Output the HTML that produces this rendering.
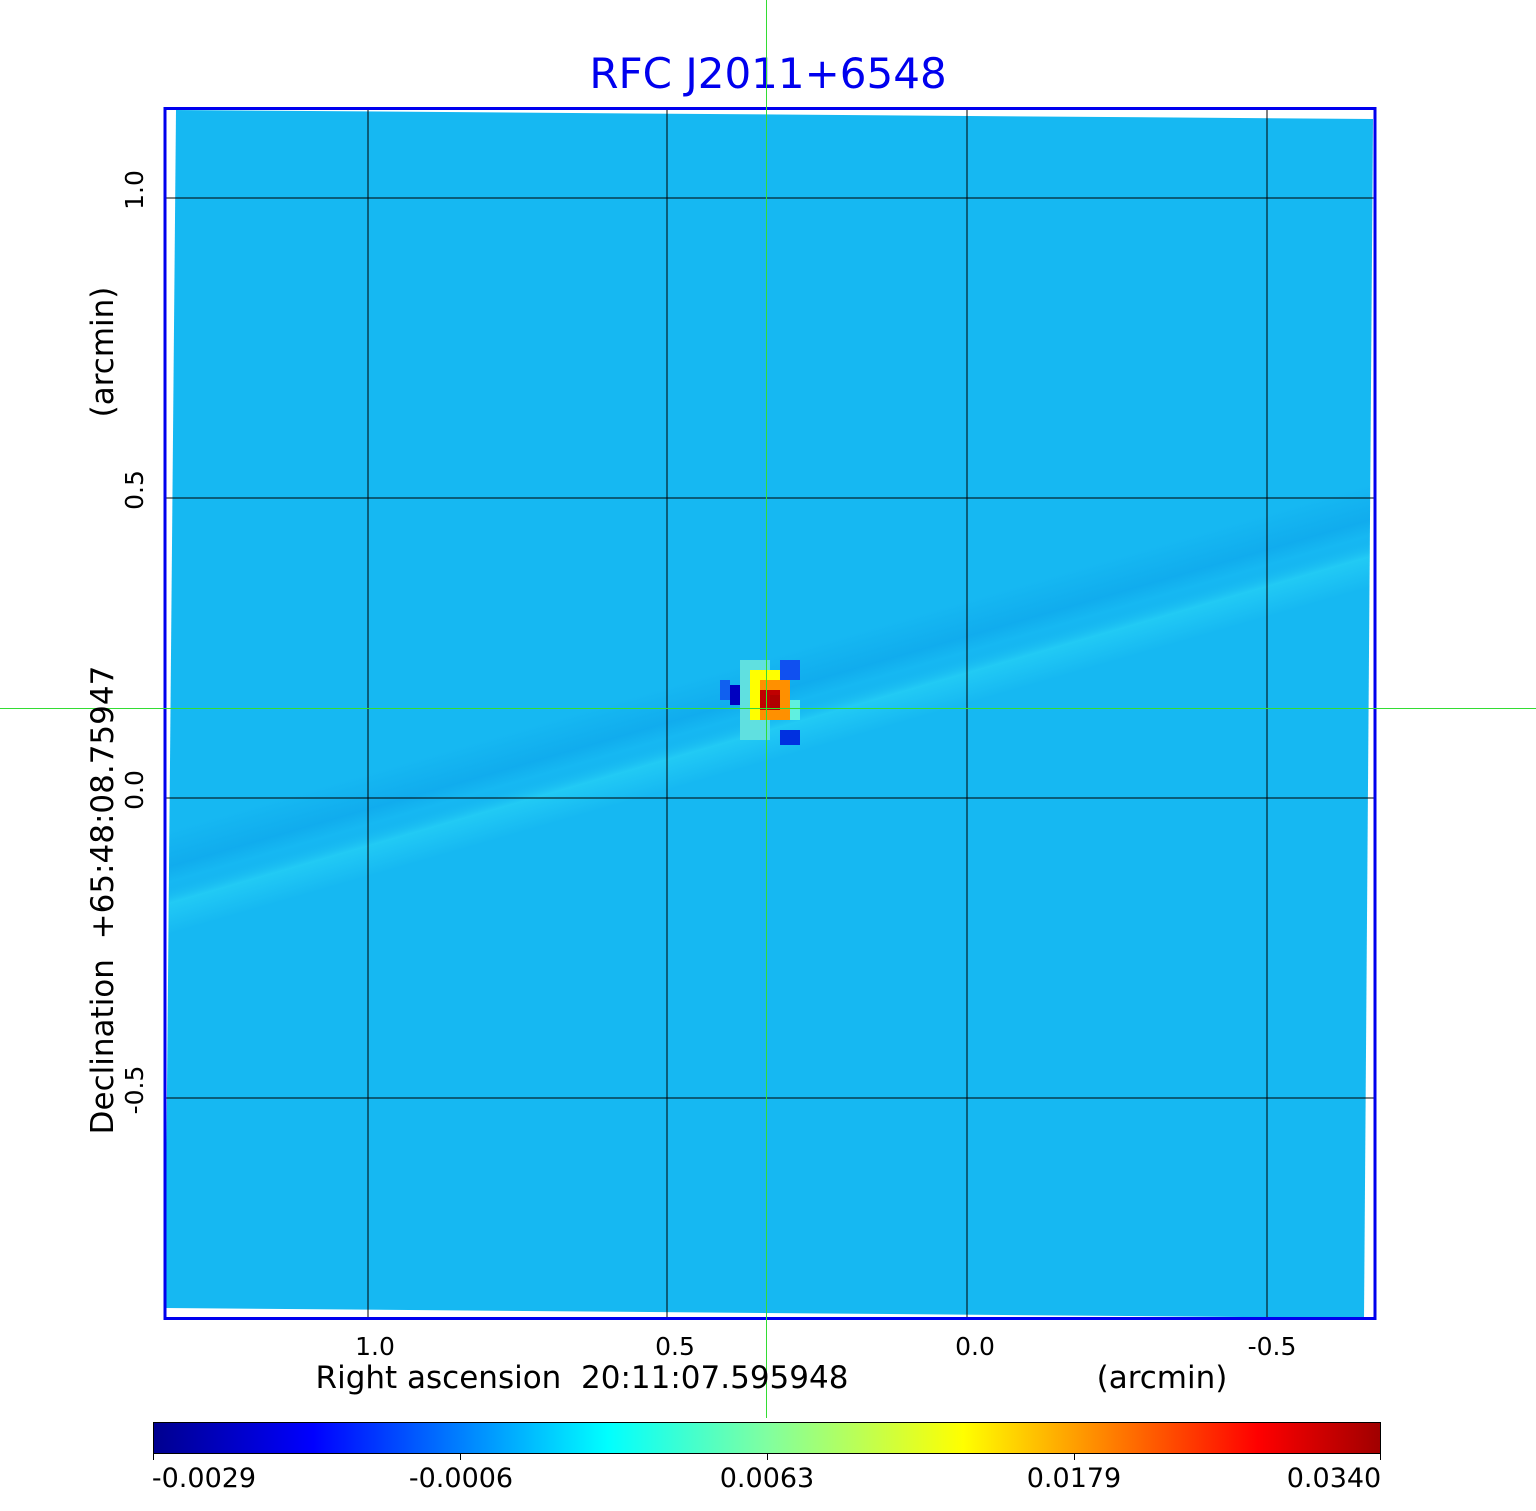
<!DOCTYPE html>
<html><head><style>body{margin:0;background:#fff}svg{display:block}</style></head><body>
<svg width="1536" height="1511" xmlns="http://www.w3.org/2000/svg" font-family="DejaVu Sans, Liberation Sans, sans-serif">
<defs>
<linearGradient id="jet" x1="0" x2="1" y1="0" y2="0">
<stop offset="0" stop-color="#00008f"/>
<stop offset="0.13" stop-color="#0000ff"/>
<stop offset="0.37" stop-color="#00ffff"/>
<stop offset="0.5" stop-color="#80ffa0"/>
<stop offset="0.66" stop-color="#ffff00"/>
<stop offset="0.9" stop-color="#ff0000"/>
<stop offset="1" stop-color="#a00000"/>
</linearGradient>
<linearGradient id="band" x1="0" y1="0" x2="0" y2="1">
<stop offset="0" stop-color="#0a9ee8" stop-opacity="0"/>
<stop offset="0.35" stop-color="#0a9ee8" stop-opacity="0.45"/>
<stop offset="0.5" stop-color="#0a9ee8" stop-opacity="0"/>
<stop offset="0.7" stop-color="#30e0f8" stop-opacity="0.45"/>
<stop offset="1" stop-color="#30e0f8" stop-opacity="0"/>
</linearGradient>
<clipPath id="img"><polygon points="176,110 1373,119 1364,1318 165,1308"/></clipPath>
</defs>
<text x="768" y="88" text-anchor="middle" font-size="42" fill="#0000ee">RFC J2011+6548</text>
<g clip-path="url(#img)">
<rect x="150" y="100" width="1240" height="1230" fill="#16b8f2"/>
<g transform="rotate(-16.1 766 708)">
<rect x="-200" y="660" width="2000" height="100" fill="url(#band)"/>
</g>
</g>
<g>
<rect x="740" y="660" width="30" height="80" fill="#60e0e0"/>
<rect x="750" y="670" width="40" height="50" fill="#ffff00"/>
<rect x="760" y="680" width="30" height="40" fill="#ff9000"/>
<rect x="760" y="690" width="20" height="20" fill="#c00000"/>
<rect x="770" y="695" width="10" height="15" fill="#b00000"/>
<rect x="730" y="685" width="10" height="20" fill="#0000c0"/>
<rect x="720" y="680" width="10" height="20" fill="#1060f0"/>
<rect x="780" y="730" width="20" height="15" fill="#0030e0"/>
<rect x="780" y="660" width="20" height="20" fill="#1050f0"/>
<rect x="790" y="700" width="10" height="20" fill="#60f0e0"/>
</g>
<g stroke="#000" stroke-width="1">
<line x1="368" y1="107" x2="368" y2="1319"/><line x1="667" y1="107" x2="667" y2="1319"/>
<line x1="967" y1="107" x2="967" y2="1319"/><line x1="1267" y1="107" x2="1267" y2="1319"/>
<line x1="164" y1="198" x2="1376" y2="198"/><line x1="164" y1="498" x2="1376" y2="498"/>
<line x1="164" y1="798" x2="1376" y2="798"/><line x1="164" y1="1098" x2="1376" y2="1098"/>
</g>
<rect x="165" y="108.5" width="1210" height="1210" fill="none" stroke="#0000ee" stroke-width="3"/>
<g stroke="#33dd33" stroke-width="1"><line x1="766.5" y1="0" x2="766.5" y2="1418"/><line x1="0" y1="708.5" x2="1536" y2="708.5"/></g>
<g font-size="25" fill="#000" text-anchor="middle">
<text x="375" y="1355">1.0</text><text x="675" y="1355">0.5</text><text x="975" y="1355">0.0</text><text x="1272" y="1355">-0.5</text>
<text x="582" y="1388" font-size="31" xml:space="preserve" style="white-space:pre">Right ascension  20:11:07.595948</text>
<text x="1162" y="1388" font-size="31">(arcmin)</text>
<text transform="translate(143,190) rotate(-90)">1.0</text>
<text transform="translate(143,490) rotate(-90)">0.5</text>
<text transform="translate(143,790) rotate(-90)">0.0</text>
<text transform="translate(143,1090) rotate(-90)">-0.5</text>
<text transform="translate(113,900) rotate(-90)" font-size="31" xml:space="preserve" style="white-space:pre">Declination  +65:48:08.75947</text>
<text transform="translate(113,352) rotate(-90)" font-size="31">(arcmin)</text>
</g>
<rect x="153.5" y="1422.5" width="1227" height="31" fill="url(#jet)" stroke="#000" stroke-width="1"/>
<g stroke="#000"><line x1="153.5" y1="1453" x2="153.5" y2="1460"/><line x1="460.5" y1="1453" x2="460.5" y2="1460"/><line x1="767.5" y1="1453" x2="767.5" y2="1460"/><line x1="1074.5" y1="1453" x2="1074.5" y2="1460"/><line x1="1380.5" y1="1453" x2="1380.5" y2="1460"/></g>
<g font-size="27" fill="#000" text-anchor="middle">
<text x="204" y="1487">-0.0029</text><text x="461" y="1487">-0.0006</text><text x="767" y="1487">0.0063</text><text x="1074" y="1487">0.0179</text><text x="1334" y="1487">0.0340</text>
</g>
</svg>
</body></html>
